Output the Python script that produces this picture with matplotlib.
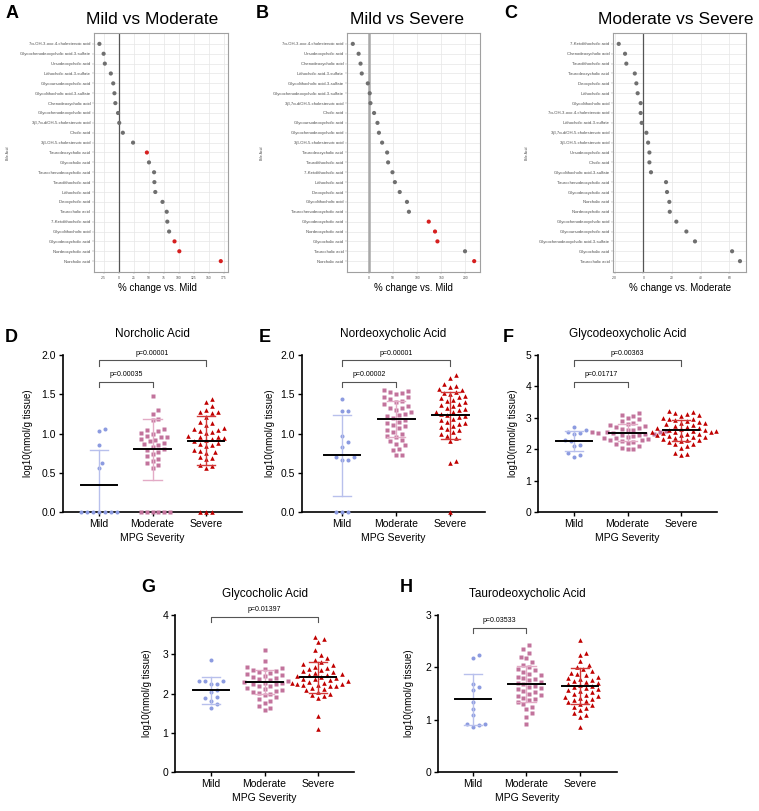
import matplotlib
matplotlib.use('Agg')
import matplotlib.pyplot as plt
import numpy as np

plt.rcParams['font.family'] = ['Liberation Sans', 'DejaVu Sans']

W, H = 759, 811
fig = plt.figure(figsize=(W / 100, H / 100), dpi=100)

# ---------------- data: top row (% change) ----------------
A_labels = ["7α-OH-3-oxo-4-cholestenoic acid", "Glycochenodeoxycholic acid-3-sulfate",
            "Ursodeoxycholic acid", "Lithocholic acid-3-sulfate", "Glycoursodeoxycholic acid",
            "Glycolithocholic acid-3-sulfate", "Chenodeoxycholic acid", "Glycochenodeoxycholic acid",
            "3β,7α-diOH-5-cholestenoic acid", "Cholic acid", "3β-OH-5-cholestenoic acid",
            "Taurodeoxycholic acid", "Glycocholic acid", "Taurochenodeoxycholic acid",
            "Taurolithocholic acid", "Lithocholic acid", "Deoxycholic acid", "Taurocholic acid",
            "7-Ketolithocholic acid", "Glycolithocholic acid", "Glycodeoxycholic acid",
            "Nordeoxycholic acid", "Norcholic acid"]
A_values = [-32, -25, -23, -13, -9, -7, -5.5, -1, 1, 7, 24, 47, 50.5, 59, 59.5, 61, 73, 80, 81, 84,
            93, 101, 170]
A_sig = [0] * 11 + [1] + [0] * 8 + [1, 1, 1]

B_labels = ["7α-OH-3-oxo-4-cholestenoic acid", "Ursodeoxycholic acid", "Chenodeoxycholic acid",
            "Lithocholic acid-3-sulfate", "Glycolithocholic acid-3-sulfate",
            "Glycochenodeoxycholic acid-3-sulfate", "3β,7α-diOH-5-cholestenoic acid", "Cholic acid",
            "Glycoursodeoxycholic acid", "Glycochenodeoxycholic acid", "3β-OH-5-cholestenoic acid",
            "Taurodeoxycholic acid", "Taurolithocholic acid", "7-Ketolithocholic acid",
            "Lithocholic acid", "Deoxycholic acid", "Glycolithocholic acid",
            "Taurochenodeoxycholic acid", "Glycodeoxycholic acid", "Nordeoxycholic acid",
            "Glycocholic acid", "Taurocholic acid", "Norcholic acid"]
B_values = [-33, -21, -17, -14.5, -2, 2, 3.5, 11, 18, 21, 27.6, 38, 40, 49, 54, 64, 79, 83, 124,
            137, 142, 199, 218]
B_sig = [0] * 18 + [1, 1, 1, 0, 1]

C_labels = ["7-Ketolithocholic acid", "Chenodeoxycholic acid", "Taurolithocholic acid",
            "Taurodeoxycholic acid", "Deoxycholic acid", "Lithocholic acid", "Glycolithocholic acid",
            "7α-OH-3-oxo-4-cholestenoic acid", "Lithocholic acid-3-sulfate",
            "3β,7α-diOH-5-cholestenoic acid", "3β-OH-5-cholestenoic acid", "Ursodeoxycholic acid",
            "Cholic acid", "Glycolithocholic acid-3-sulfate", "Taurochenodeoxycholic acid",
            "Glycodeoxycholic acid", "Norcholic acid", "Nordeoxycholic acid",
            "Glycochenodeoxycholic acid", "Glycoursodeoxycholic acid",
            "Glycochenodeoxycholic acid-3-sulfate", "Glycocholic acid", "Taurocholic acid"]
C_values = [-17.2, -12.8, -11.9, -6, -4.9, -4, -1.9, -1.9, -1.2, 2.1, 3.3, 4.2, 4.2, 5.3, 15.8,
            16.5, 18.1, 18.4, 23, 30, 36, 61.9, 67.4]
C_sig = [0] * 23

# ---------------- data: bottom row (log10 nmol/g) ----------------
groups = ["Mild", "Moderate", "Severe"]

D_mild = [1.06, 1.03, 0.85, 0.63, 0.56, 0, 0, 0, 0, 0, 0, 0]
D_mod = [1.48, 1.30, 1.25, 1.19, 1.17, 1.06, 1.05, 1.03, 1.01, 0.99, 0.97, 0.96, 0.95, 0.93, 0.92,
         0.90, 0.88, 0.86, 0.85, 0.83, 0.80, 0.79, 0.76, 0.74, 0.71, 0.68, 0.65, 0.62, 0.60, 0.56,
         0, 0, 0, 0, 0, 0]
D_sev = [1.44, 1.40, 1.35, 1.30, 1.28, 1.27, 1.26, 1.21, 1.15, 1.13, 1.11, 1.07, 1.06, 1.05, 1.03,
         1.02, 1.01, 0.97, 0.96, 0.95, 0.94, 0.93, 0.92, 0.91, 0.88, 0.87, 0.85, 0.84, 0.79, 0.78,
         0.76, 0.75, 0.70, 0.69, 0.67, 0.60, 0.58, 0.56, 0, 0, 0]
E_mild = [1.44, 1.29, 1.29, 0.97, 0.89, 0.83, 0.70, 0.70, 0.66, 0.66, 0, 0, 0]
E_mod = [1.55, 1.54, 1.53, 1.52, 1.50, 1.47, 1.46, 1.44, 1.42, 1.40, 1.37, 1.35, 1.33, 1.32, 1.30,
         1.27, 1.25, 1.23, 1.22, 1.20, 1.17, 1.15, 1.13, 1.11, 1.09, 1.07, 1.05, 1.02, 1.00, 0.97,
         0.95, 0.92, 0.90, 0.87, 0.85, 0.80, 0.79, 0.73, 0.72]
E_sev = [1.74, 1.71, 1.63, 1.61, 1.59, 1.57, 1.55, 1.53, 1.52, 1.50, 1.48, 1.46, 1.45, 1.43, 1.41,
         1.40, 1.38, 1.36, 1.35, 1.33, 1.31, 1.30, 1.28, 1.27, 1.25, 1.24, 1.22, 1.21, 1.19, 1.17,
         1.15, 1.13, 1.12, 1.10, 1.08, 1.06, 1.04, 1.02, 1.00, 0.97, 0.94, 0.90, 0.65, 0.62, 0.0]
F_mild = [2.72, 2.62, 2.55, 2.52, 2.50, 2.30, 2.27, 2.14, 2.09, 1.88, 1.80, 1.76]
F_mod = [3.15, 3.10, 3.05, 3.00, 2.95, 2.90, 2.85, 2.80, 2.78, 2.75, 2.70, 2.68, 2.65, 2.62, 2.60,
         2.58, 2.56, 2.55, 2.54, 2.53, 2.52, 2.50, 2.48, 2.46, 2.44, 2.42, 2.40, 2.37, 2.35, 2.32,
         2.30, 2.28, 2.25, 2.22, 2.20, 2.15, 2.10, 2.05, 2.02, 2.00]
F_sev = [3.22, 3.20, 3.15, 3.12, 3.08, 3.05, 3.00, 2.97, 2.95, 2.92, 2.90, 2.88, 2.85, 2.82, 2.80,
         2.76, 2.73, 2.70, 2.68, 2.66, 2.64, 2.62, 2.60, 2.58, 2.57, 2.56, 2.55, 2.54, 2.52, 2.50,
         2.48, 2.46, 2.45, 2.43, 2.40, 2.38, 2.35, 2.33, 2.30, 2.28, 2.25, 2.22, 2.18, 2.15, 2.10,
         2.05, 1.88, 1.85, 1.80]
G_mild = [2.86, 2.33, 2.32, 2.31, 2.25, 2.24, 2.08, 2.03, 1.90, 1.89, 1.80, 1.74, 1.62]
G_mod = [3.10, 2.83, 2.67, 2.65, 2.63, 2.60, 2.58, 2.55, 2.52, 2.50, 2.47, 2.45, 2.42, 2.40, 2.38,
         2.35, 2.33, 2.30, 2.28, 2.26, 2.25, 2.23, 2.20, 2.18, 2.15, 2.12, 2.10, 2.07, 2.05, 2.02,
         2.00, 1.95, 1.90, 1.85, 1.80, 1.75, 1.68, 1.62, 1.57]
G_sev = [3.45, 3.40, 3.30, 3.10, 2.97, 2.90, 2.85, 2.80, 2.75, 2.72, 2.68, 2.65, 2.62, 2.60, 2.57,
         2.55, 2.52, 2.50, 2.48, 2.46, 2.44, 2.42, 2.40, 2.38, 2.36, 2.34, 2.32, 2.30, 2.28, 2.26,
         2.25, 2.24, 2.22, 2.21, 2.20, 2.18, 2.15, 2.12, 2.08, 2.05, 2.00, 1.96, 1.93, 1.88, 1.42,
         1.10]
H_mild = [2.24, 2.17, 1.68, 1.63, 1.56, 1.33, 1.20, 1.08, 0.92, 0.91, 0.90, 0.86]
H_mod = [2.42, 2.35, 2.28, 2.20, 2.18, 2.10, 2.05, 2.00, 1.97, 1.95, 1.92, 1.88, 1.85, 1.82, 1.80,
         1.78, 1.75, 1.72, 1.70, 1.68, 1.65, 1.62, 1.60, 1.58, 1.55, 1.52, 1.50, 1.48, 1.45, 1.42,
         1.40, 1.37, 1.33, 1.30, 1.25, 1.20, 1.12, 1.05, 0.92]
H_sev = [2.52, 2.28, 2.24, 2.12, 2.05, 2.00, 1.97, 1.93, 1.90, 1.88, 1.85, 1.82, 1.80, 1.78, 1.76,
         1.74, 1.72, 1.70, 1.68, 1.66, 1.64, 1.62, 1.60, 1.58, 1.56, 1.54, 1.52, 1.50, 1.48, 1.46,
         1.44, 1.42, 1.40, 1.38, 1.35, 1.33, 1.30, 1.28, 1.25, 1.22, 1.18, 1.12, 1.08, 1.05, 0.86]

# group means and SDs
D_mean = [0.34, 0.80, 0.91]; D_sd = [0.445, 0.39, 0.31]
E_mean = [0.72, 1.18, 1.23]; E_sd = [0.51, 0.23, 0.30]
F_mean = [2.25, 2.53, 2.60]; F_sd = [0.32, 0.28, 0.33]
G_mean = [2.08, 2.30, 2.415]; G_sd = [0.335, 0.305, 0.40]
H_mean = [1.39, 1.685, 1.65]; H_sd = [0.485, 0.34, 0.345]

# p-value brackets: (group i, group j, label)
D_p = [(0, 1, "p=0.00035"), (0, 2, "p=0.00001")]
E_p = [(0, 1, "p=0.00002"), (0, 2, "p=0.00001")]
F_p = [(0, 1, "p=0.01717"), (0, 2, "p=0.00363")]
G_p = [(0, 2, "p=0.01397")]
H_p = [(0, 1, "p=0.03533")]


def add_ax(l, t, r, b):
    return fig.add_axes([l / W, 1 - b / H, (r - l) / W, (b - t) / H])


# ---------------- top row ----------------
def dot_panel(box, labels, values, sig, ticks, xlim, title, title_xy, xlabel, xlabel_xy,
              bile_xy, zero_style):
    ax = add_ax(*box)
    n = len(labels)
    pos = np.arange(1, n + 1)
    cols = ['#D61F1F' if s else '#6F6F6F' for s in sig]
    ax.grid(True, color='#E6E6E6', lw=0.5, zorder=0)
    ax.axvline(0, zorder=1, **zero_style)
    ax.scatter(values, pos, s=9, c=cols, zorder=3, linewidths=0)
    ax.set_xlim(*xlim)
    ax.set_ylim(n + 1.1, -0.1)
    ax.set_yticks(pos)
    ax.set_yticklabels(labels, fontsize=3.1, color='#4D4D4D')
    ax.set_xticks(ticks)
    ax.set_xticklabels([str(t) for t in ticks], fontsize=2.4, color='#4D4D4D')
    ax.tick_params(length=1.2, width=0.3, color='#888888', pad=1.5)
    for s in ax.spines.values():
        s.set_color('#A0A0A0')
        s.set_linewidth(0.8)
    ax.set_axisbelow(True)
    fig.text(title_xy[0] / W, 1 - title_xy[1] / H, title, fontsize=12.5, ha='center',
             va='center')
    fig.text(xlabel_xy[0] / W, 1 - xlabel_xy[1] / H, xlabel, fontsize=7, ha='center',
             va='center')
    fig.text(bile_xy[0] / W, 1 - bile_xy[1] / H, "Bile Acid", fontsize=2.5, rotation=90,
             ha='center', va='center', color='#4D4D4D')
    return ax


dot_panel((94, 33, 228, 272), A_labels, A_values, A_sig,
          [-25, 0, 25, 50, 75, 100, 125, 150, 175], (-41, 182), "Mild vs Moderate", (152, 20),
          "% change vs. Mild", (157, 288), (8, 153), dict(color='#555555', lw=0.9))
dot_panel((347, 33, 480, 272), B_labels, B_values, B_sig,
          [0, 50, 100, 150, 200], (-45, 230), "Mild vs Severe", (407, 20),
          "% change vs. Mild", (413, 288), (262, 153), dict(color='#A8A8A8', lw=1.8))
dot_panel((613, 33, 746, 272), C_labels, C_values, C_sig,
          [-20, 0, 20, 40, 60], (-21.2, 71.6), "Moderate vs Severe", (676, 20),
          "% change vs. Moderate", (680, 288), (527, 153), dict(color='#555555', lw=0.9))

for letter, x, y in [("A", 12, 14), ("B", 262, 14), ("C", 511, 14),
                     ("D", 11, 337), ("E", 265, 337), ("F", 508, 337),
                     ("G", 148, 588), ("H", 406, 588)]:
    fig.text(x / W, 1 - y / H, letter, fontsize=13, fontweight='bold', ha='center',
             va='center')

# ---------------- bottom row ----------------
pt_colors = ['#8C9BE0', '#C2739C', '#C00000']
bar_colors = ['#B8C0EC', '#E3ABC6', '#D23A3A']
markers = ['o', 's', '^']
msizes = [2.9, 2.8, 3.3]


def swarm(vals, xs, ys, diam):
    vals = np.asarray(vals, float)
    order = np.argsort(vals)
    placed = []
    offs = np.zeros(len(vals))
    cands = [0]
    for j in range(1, 60):
        cands += [j, -j]
    for i in order:
        y = vals[i] * ys
        xo = 0.0
        for c in cands:
            x = c * diam * 0.5
            if all((x - px) ** 2 + (y - py) ** 2 >= diam ** 2 for px, py in placed):
                xo = x
                break
        placed.append((xo, y))
        offs[i] = xo / xs
    return offs


def scatter_panel(box, data, means, sds, ymax, yticks, yfmt, xlim, title, pvals, ylab_dist):
    l, t, r, b = box
    ax = add_ax(l, t, r, b)
    xs = (r - l) / (xlim[1] - xlim[0])
    ys = (b - t) / ymax
    for gi, vals in enumerate(data):
        offs = swarm(vals, xs, ys, 5.9)
        ax.plot(gi + offs, vals, ls='none', marker=markers[gi], ms=msizes[gi],
                mfc=pt_colors[gi], mec='none', zorder=3, clip_on=False)
        m, s = means[gi], sds[gi]
        lo = max(m - s, 0)
        ax.plot([gi, gi], [lo, m + s], color=bar_colors[gi], lw=1.0, zorder=4)
        ax.plot([gi - 0.17, gi + 0.17], [m + s, m + s], color=bar_colors[gi], lw=1.0, zorder=4)
        if m - s > 0:
            ax.plot([gi - 0.17, gi + 0.17], [m - s, m - s], color=bar_colors[gi], lw=1.0,
                    zorder=4)
        ax.plot([gi - 0.34, gi + 0.34], [m, m], color='black', lw=1.4, zorder=5)
    ax.set_xlim(*xlim)
    ax.set_ylim(0, ymax)
    ax.set_yticks(yticks)
    ax.set_yticklabels([yfmt.format(v) for v in yticks], fontsize=7.5)
    ax.set_xticks(range(3))
    ax.set_xticklabels(groups, fontsize=7.5)
    ax.tick_params(length=3, width=1.0, pad=2)
    for sp in ['top', 'right']:
        ax.spines[sp].set_visible(False)
    for sp in ['left', 'bottom']:
        ax.spines[sp].set_linewidth(1.2)
    ax.set_xlabel("MPG Severity", fontsize=7.5, labelpad=3)
    ax.set_ylabel("log10(nmol/g tissue)", fontsize=7)
    ax.yaxis.set_label_coords(-ylab_dist / (r - l), 0.5)
    ax.text(0.5, 1 + 21 / (b - t), title, transform=ax.transAxes, fontsize=8.5, ha='center',
            va='center')
    for (i, j, lab) in pvals:
        level = 0.83 + 0.135 * (j - i - 1) if len(pvals) > 1 else (0.99 if j - i == 2 else 0.92)
        ytop = level * ymax
        drop = 0.035 * ymax
        ax.plot([i, i, j, j], [ytop - drop, ytop, ytop, ytop - drop], color='#555555', lw=0.8,
                clip_on=False, zorder=6)
        ax.text((i + j) / 2, ytop + 0.025 * ymax, lab, fontsize=5, ha='center', va='bottom',
                clip_on=False)
    return ax


scatter_panel((63, 355, 242, 512), [D_mild, D_mod, D_sev], D_mean, D_sd, 2.0,
              [0, 0.5, 1.0, 1.5, 2.0], "{:.1f}", (-0.67, 2.67), "Norcholic Acid", D_p, 30)
scatter_panel((302, 355, 485, 512), [E_mild, E_mod, E_sev], E_mean, E_sd, 2.0,
              [0, 0.5, 1.0, 1.5, 2.0], "{:.1f}", (-0.74, 2.64), "Nordeoxycholic Acid", E_p, 27)
scatter_panel((538, 355, 717, 512), [F_mild, F_mod, F_sev], F_mean, F_sd, 5,
              [0, 1, 2, 3, 4, 5], "{:d}", (-0.67, 2.67), "Glycodeoxycholic Acid", F_p, 20)
scatter_panel((175, 615, 354, 772), [G_mild, G_mod, G_sev], G_mean, G_sd, 4,
              [0, 1, 2, 3, 4], "{:d}", (-0.67, 2.67), "Glycocholic Acid", G_p, 23)
scatter_panel((438, 615, 617, 772), [H_mild, H_mod, H_sev], H_mean, H_sd, 3,
              [0, 1, 2, 3], "{:d}", (-0.65, 2.69), "Taurodeoxycholic Acid", H_p, 24)

fig.savefig("out.png", dpi=100)
